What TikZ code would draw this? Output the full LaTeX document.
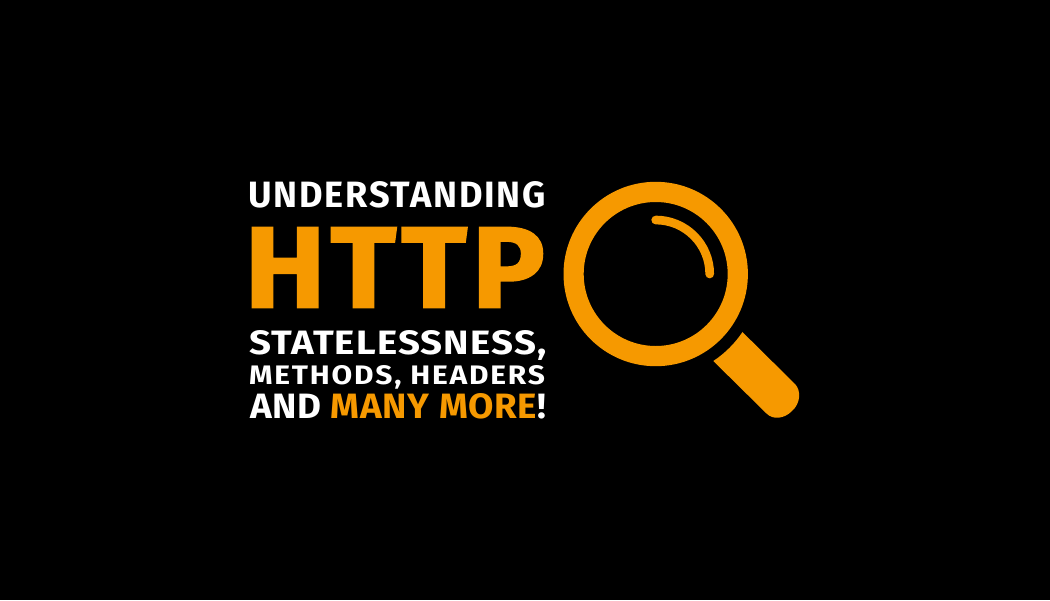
\documentclass[tikz,border=0pt]{standalone}
\usepackage{fontspec}
\usepackage{graphicx}
\setmainfont{Fira Sans}
\definecolor{amber}{HTML}{F69900}
\tikzset{
  txt/.style={inner sep=0pt,outer sep=0pt,anchor=base west,text=white,font=\bfseries},
  lens/.style={fill=amber,even odd rule},
}
\begin{document}
\begin{tikzpicture}[x=1pt,y=-1pt]
\fill[black] (0,0) rectangle (1050,600);
\useasboundingbox (0,0) rectangle (1050,600);
\node[txt] (l1) at (248,207) {\resizebox{298pt}{26pt}{\addfontfeature{LetterSpace=5}UNDERSTANDING}};
\node[txt,text=amber] (l2) at (244.5,307.5) {\resizebox{300.5pt}{80pt}{\addfontfeature{FakeBold=1.5,LetterSpace=4,Kerning=Off}HTTP}};
\node[txt] (l3) at (249,354) {\resizebox{297.5pt}{24pt}{\addfontfeature{LetterSpace=3}STATELESSNESS,}};
\node[txt] (l4) at (249,384) {\resizebox{296pt}{19pt}{\addfontfeature{LetterSpace=6}METHODS, HEADERS}};
\node[txt] (l5) at (250,418) {\resizebox{296pt}{25pt}{\addfontfeature{LetterSpace=2}AND \textcolor{amber}{MANY MORE}!}};
\fill[lens] (655.7,274) circle[radius=92.2] (655.7,274) circle[radius=72];
\draw[amber,line width=8.7pt,line cap=round] (655.7,220) arc[start angle=-90,end angle=0,radius=54];
\fill[amber] (742.7,332.3) -- (795,384) .. controls (801,390) and (801,403) .. (792,411) .. controls (784,419) and (773,420) .. (766.5,413.5) -- (713.3,361) arc[start angle=56.5,end angle=33.8,radius=105] -- cycle;
\end{tikzpicture}
\end{document}
